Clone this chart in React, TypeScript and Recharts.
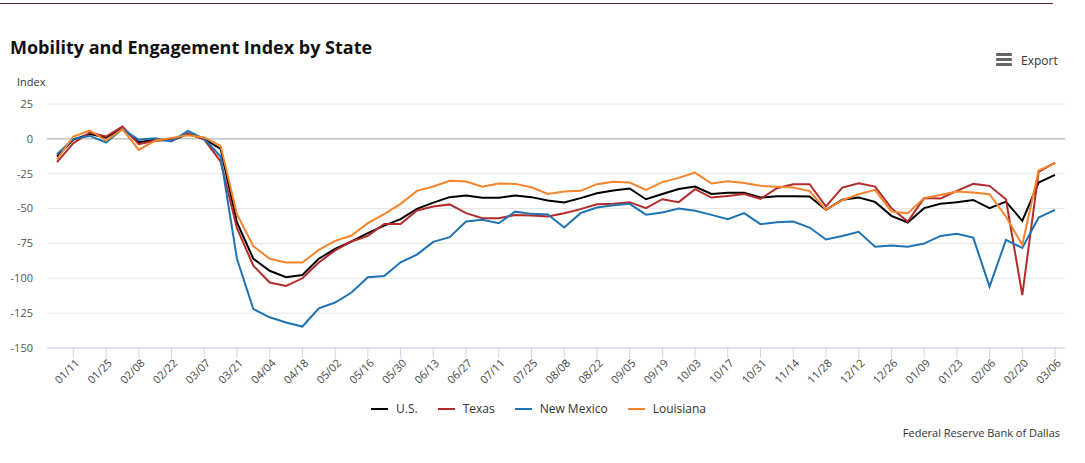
import { LineChart, Line, XAxis, YAxis, CartesianGrid, ReferenceLine } from "recharts";

// weekly dates, 01/04/2020 .. 03/06/2021
const dates = [
  "01/04", "01/11", "01/18", "01/25", "02/01", "02/08", "02/15", "02/22", "02/29", "03/07",
  "03/14", "03/21", "03/28", "04/04", "04/11", "04/18", "04/25", "05/02", "05/09", "05/16",
  "05/23", "05/30", "06/06", "06/13", "06/20", "06/27", "07/04", "07/11", "07/18", "07/25",
  "08/01", "08/08", "08/15", "08/22", "08/29", "09/05", "09/12", "09/19", "09/26", "10/03",
  "10/10", "10/17", "10/24", "10/31", "11/07", "11/14", "11/21", "11/28", "12/05", "12/12",
  "12/19", "12/26", "01/02", "01/09", "01/16", "01/23", "01/30", "02/06", "02/13", "02/20",
  "02/27", "03/06",
];

const tickLabels = [
  "01/11", "01/25", "02/08", "02/22", "03/07", "03/21", "04/04", "04/18", "05/02", "05/16",
  "05/30", "06/13", "06/27", "07/11", "07/25", "08/08", "08/22", "09/05", "09/19", "10/03",
  "10/17", "10/31", "11/14", "11/28", "12/12", "12/26", "01/09", "01/23", "02/06", "02/20",
  "03/06",
];

const yTicks = [25, 0, -25, -50, -75, -100, -125, -150];

const us = [
  -12.7, -0.5, 3.4, 1, 7.6, -2.4, -0.7, -1.2, 3.4, 0,
  -7.2, -60, -86, -94.6, -99.2, -97.6, -86, -79, -73.6, -67.6,
  -62.2, -57.6, -50.2, -45.7, -41.8, -40.7, -42.3, -42.3, -40.7, -41.8,
  -44.2, -45.7, -42.5, -39, -37, -35.6, -43.3, -39.5, -36, -34.2,
  -39.5, -38.7, -38.7, -42.1, -41.1, -41.1, -41.4, -50.9, -43.7, -42.1,
  -45.2, -55.2, -60, -49.7, -46.6, -45.4, -43.8, -49.7, -45, -58.8,
  -31.3, -25.8,
];

const texas = [
  -16.7, -3.1, 4.5, 1.7, 8.8, -3.8, -1.4, -0.7, 4, -0.5,
  -16.2, -64, -91, -103, -105.5, -100, -88.7, -80, -73.6, -69.6,
  -61, -61, -51.4, -48.5, -47, -53.3, -56.9, -56.9, -54.7, -55,
  -55.7, -53.3, -50.4, -46.9, -46.6, -45.4, -49.7, -43.3, -45.4, -36.1,
  -42.1, -40.9, -39.5, -43, -35.4, -32.5, -32.5, -48.5, -35, -31.8,
  -34.2, -49.7, -59.3, -42.5, -42.8, -37.3, -32.3, -33.7, -43.3, -112,
  -23.7, -17,
];

const newMexico = [
  -11, 0, 2.1, -2.6, 7, -0.7, 0.5, -1.9, 5.7, 0,
  -12.7, -86, -122, -128, -131.7, -134.6, -121.5, -117.4, -110.2, -99.2,
  -98.3, -88.5, -83, -73.9, -70.5, -59.3, -58.1, -60.5, -52.2, -53.8,
  -54.3, -63.6, -53.3, -49.3, -47.6, -46.6, -54.4, -52.8, -50, -51.6,
  -54.5, -57.6, -53.3, -61.2, -59.8, -59.3, -63.6, -72.2, -69.7, -66.7,
  -77.3, -76.5, -77.3, -75.1, -69.6, -68.1, -70.8, -106, -72.5, -78.2,
  -56.4, -51,
];

const louisiana = [
  -14.6, 1.7, 6, -1.2, 7, -7.9, -1.2, 0.7, 2.6, 1,
  -5, -54, -77, -86, -88.7, -88.7, -79.6, -73.2, -69.3, -60.5,
  -54, -46.6, -37.3, -34.2, -30, -30.6, -34.4, -32, -32.3, -34.7,
  -39.5, -37.8, -37.3, -32.5, -30.8, -31.3, -36.6, -31, -28, -24.2,
  -32, -30.4, -31.6, -33.7, -34.4, -34.9, -37.5, -50.9, -44, -39.7,
  -36.6, -52.2, -53.3, -42.5, -40.2, -37.8, -38.5, -39.7, -55.7, -76,
  -22.7, -17.4,
];

const series = [
  { key: "us", name: "U.S.", color: "#000000" },
  { key: "texas", name: "Texas", color: "#b42b2b" },
  { key: "newMexico", name: "New Mexico", color: "#1f73b4" },
  { key: "louisiana", name: "Louisiana", color: "#f5842b" },
];

const data = dates.map((date, i) => ({
  date,
  us: us[i],
  texas: texas[i],
  newMexico: newMexico[i],
  louisiana: louisiana[i],
}));

const FONT = "'Open Sans', 'Noto Sans', sans-serif";

function XTick({ x, y, payload }: any) {
  return (
    <g transform={`translate(${x + 4},${y + 1})`}>
      <text
        textAnchor="end"
        transform="rotate(-45)"
        dy="0.35em"
        fill="#444"
        fontSize={11}
        fontFamily={FONT}
      >
        {payload.value}
      </text>
    </g>
  );
}

export default function App() {
  return (
    <div
      style={{
        position: "absolute",
        left: 0,
        top: 0,
        width: 1085,
        height: 463,
        background: "#fff",
        fontFamily: FONT,
        color: "#333",
        overflow: "hidden",
      }}
    >
      <div style={{ position: "absolute", left: 0, top: 3, width: 1053, height: 1, background: "#5c2a2a" }} />
      <div
        style={{
          position: "absolute",
          left: 10,
          top: 35,
          fontSize: 18,
          fontWeight: 700,
          color: "#111",
          whiteSpace: "nowrap",
        }}
      >
        Mobility and Engagement Index by State
      </div>

      {/* export button */}
      <div style={{ position: "absolute", left: 996, top: 53 }}>
        {[0, 5, 10].map((t) => (
          <div
            key={t}
            style={{ position: "absolute", left: 0, top: t, width: 16, height: 3, borderRadius: 1, background: "#666" }}
          />
        ))}
      </div>
      <div style={{ position: "absolute", left: 1021, top: 52, fontSize: 12, color: "#333" }}>Export</div>

      <div style={{ position: "absolute", left: 17, top: 74, fontSize: 11, color: "#333" }}>Index</div>

      <div style={{ position: "absolute", left: 0, top: 0 }}>
        <LineChart width={1085} height={463} data={data} margin={{ top: 104, right: 20, bottom: 65, left: 7 }}>
          <CartesianGrid vertical={false} stroke="#e6e6e6" />
          <ReferenceLine y={0} stroke="#b0b0b0" strokeWidth={1} />
          <XAxis
            dataKey="date"
            ticks={tickLabels}
            interval={0}
            height={50}
            padding={{ left: 10, right: 10 }}
            axisLine={{ stroke: "#ccd6eb" }}
            tickLine={{ stroke: "#ccd6eb" }}
            tickSize={10}
            tick={<XTick />}
          />
          <YAxis
            domain={[-150, 25]}
            ticks={yTicks}
            interval={0}
            width={40}
            axisLine={false}
            tickLine={false}
            tickMargin={8}
            tick={{ fill: "#555", fontSize: 11, fontFamily: FONT }}
          />
          {series.map((s) => (
            <Line
              key={s.key}
              dataKey={s.key}
              name={s.name}
              stroke={s.color}
              strokeWidth={2}
              dot={false}
              type="linear"
              isAnimationActive={false}
            />
          ))}
        </LineChart>
      </div>

      {/* legend */}
      <div
        style={{
          position: "absolute",
          left: 0,
          top: 400,
          width: 1077,
          display: "flex",
          justifyContent: "center",
          gap: 20,
          fontSize: 12,
          color: "#333",
        }}
      >
        {series.map((s) => (
          <div key={s.key} style={{ display: "flex", alignItems: "center", gap: 8 }}>
            <div style={{ width: 17, height: 2, background: s.color }} />
            <span>{s.name}</span>
          </div>
        ))}
      </div>

      <div style={{ position: "absolute", right: 25, top: 425, fontSize: 11, color: "#333" }}>
        Federal Reserve Bank of Dallas
      </div>
    </div>
  );
}
